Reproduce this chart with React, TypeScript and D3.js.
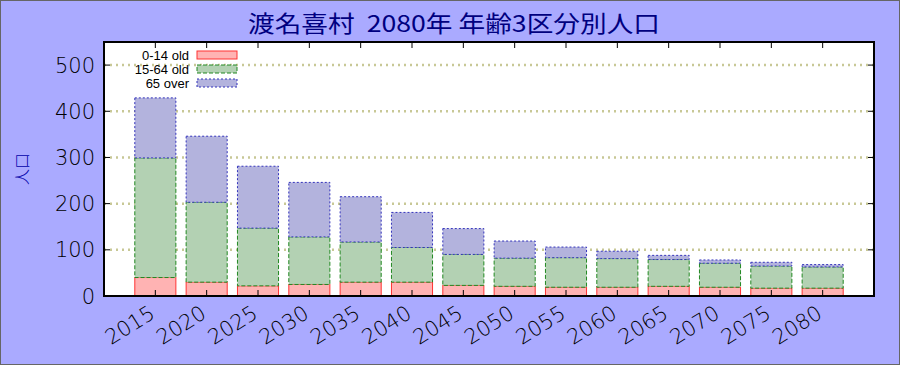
import React, { useEffect, useRef } from 'react';
import * as d3 from 'd3';

const years = ['2015', '2020', '2025', '2030', '2035', '2040', '2045', '2050', '2055', '2060', '2065', '2070', '2075', '2080'];
const young = [40, 30, 22, 25, 30, 30, 23, 21, 19, 19, 21, 19, 17, 17];
const working = [259, 173, 125, 103, 87, 75, 67, 61, 64, 62, 58, 52, 48, 46];
const elderly = [130, 143, 134, 118, 98, 76, 56, 37, 23, 16, 9, 7, 8, 5];
const yTicks = [0, 100, 200, 300, 400, 500];
const seriesNames = ['0-14 old', '15-64 old', '65 over'];

const App: React.FC = () => {
  const svgRef = useRef<SVGSVGElement>(null);

  useEffect(() => {
    document.body.style.margin = '0';
    if (!svgRef.current) return;
    const svg = d3.select(svgRef.current);
    svg.selectAll('*').remove();

    const W = 900, H = 365;
    const margin = { top: 42, right: 26, bottom: 69, left: 104 };
    const x0 = margin.left, x1 = W - margin.right;
    const y0 = H - margin.bottom, y1 = margin.top;

    // background
    svg.append('rect').attr('x', 0.5).attr('y', 0.5).attr('width', W - 1).attr('height', H - 1)
      .attr('fill', '#aaaaff').attr('stroke', '#666').attr('stroke-width', 1);

    svg.append('rect').attr('x', x0).attr('y', y1).attr('width', x1 - x0).attr('height', y0 - y1)
      .attr('fill', 'white');

    const x = d3.scaleLinear().domain([0, years.length + 1]).range([x0, x1]);
    const y = d3.scaleLinear().domain([0, 550]).range([y0, y1]);
    const bw = (x(0.8) - x(0));

    // grid
    svg.append('g').selectAll('line').data(yTicks.filter(t => t > 0)).join('line')
      .attr('x1', x0).attr('x2', x1)
      .attr('y1', d => y(d)).attr('y2', d => y(d))
      .attr('stroke', '#c8c896').attr('stroke-width', 2.5).attr('stroke-dasharray', '2 4');

    const styles = [
      { fill: '#ffb3b3', stroke: '#ff3333', dash: null },
      { fill: '#b3d1b3', stroke: '#228822', dash: '4 2' },
      { fill: '#b3b3dd', stroke: '#3333bb', dash: '2 2' },
    ];

    const rows = years.map((yr, i) => ({ yr, i, vals: [young[i], working[i], elderly[i]] }));
    const stack = d3.stack<any>().keys(['0', '1', '2']).value((d, k) => d.vals[+k]);
    const stacked = stack(rows);

    stacked.forEach((layer, li) => {
      const s = styles[li];
      svg.append('g').selectAll('rect').data(layer).join('rect')
        .attr('x', (d: any) => x(d.data.i + 1) - bw / 2)
        .attr('width', bw)
        .attr('y', d => y(d[1]))
        .attr('height', d => y(d[0]) - y(d[1]))
        .attr('fill', s.fill)
        .attr('stroke', s.stroke)
        .attr('stroke-width', 1)
        .attr('stroke-dasharray', s.dash as any);
    });

    // ticks
    const tk = svg.append('g').attr('stroke', 'black').attr('stroke-width', 1);
    yTicks.forEach(t => {
      tk.append('line').attr('x1', x0).attr('x2', x0 + 6).attr('y1', y(t)).attr('y2', y(t));
      tk.append('line').attr('x1', x1 - 6).attr('x2', x1).attr('y1', y(t)).attr('y2', y(t));
    });
    years.forEach((_, i) => {
      tk.append('line').attr('x1', x(i + 1)).attr('x2', x(i + 1)).attr('y1', y1).attr('y2', y1 + 6);
      tk.append('line').attr('x1', x(i + 1)).attr('x2', x(i + 1)).attr('y1', y0).attr('y2', y0 - 6);
    });

    // frame
    svg.append('rect').attr('x', x0).attr('y', y1).attr('width', x1 - x0).attr('height', y0 - y1)
      .attr('fill', 'none').attr('stroke', 'black').attr('stroke-width', 2);

    // y tick labels
    svg.append('g').selectAll('text').data(yTicks).join('text')
      .attr('x', x0 - 9).attr('y', d => y(d)).attr('dy', '0.36em')
      .attr('text-anchor', 'end')
      .attr('font-family', 'DejaVu Sans').attr('font-weight', 200).attr('font-size', 21).attr('fill', '#000')
      .text(d => d);

    // x labels
    svg.append('g').selectAll('text').data(years).join('text')
      .attr('text-anchor', 'end')
      .attr('font-family', 'DejaVu Sans').attr('font-weight', 200).attr('font-size', 21).attr('fill', '#000')
      .attr('transform', (d, i) => `translate(${x(i + 1) + 1},${y0 + 21}) rotate(-32)`)
      .text(d => d);

    // y label
    svg.append('text')
      .attr('transform', `translate(28,${(y0 + y1) / 2}) rotate(-90)`)
      .attr('text-anchor', 'middle')
      .attr('font-family', 'Noto Sans CJK JP').attr('font-weight', 300).attr('font-size', 16).attr('fill', '#0000aa')
      .text('人口');

    // title
    svg.append('text')
      .attr('x', 454).attr('y', 32)
      .attr('text-anchor', 'middle')
      .style('white-space', 'pre')
      .attr('font-family', 'Noto Sans CJK JP').attr('font-size', 23).attr('fill', '#000080')
      .attr('textLength', 412).attr('lengthAdjust', 'spacingAndGlyphs')
      .text('渡名喜村  2080年 年齢3区分別人口');

    // legend
    const lg = svg.append('g');
    seriesNames.forEach((name, i) => {
      const cy = 55 + i * 14;
      lg.append('text').attr('x', 189).attr('y', cy).attr('dy', '0.35em')
        .attr('text-anchor', 'end').attr('font-family', 'Liberation Sans').attr('font-size', 13)
        .attr('fill', 'black').text(name);
      lg.append('rect').attr('x', 197).attr('y', cy - 4).attr('width', 40).attr('height', 8)
        .attr('fill', styles[i].fill).attr('stroke', styles[i].stroke)
        .attr('stroke-dasharray', styles[i].dash as any);
    });
  }, []);

  return <svg ref={svgRef} width={900} height={365} style={{ display: 'block' }} />;
};

export default App;
